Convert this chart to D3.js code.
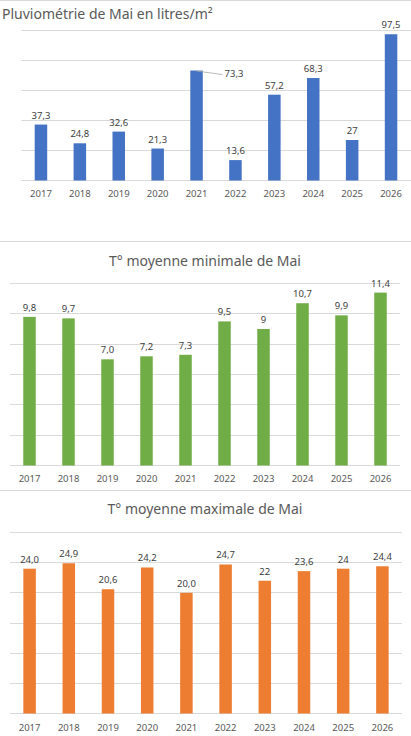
<!DOCTYPE html>
<html>
<head>
<meta charset="utf-8">
<script src="https://cdn.jsdelivr.net/npm/d3@7"></script>
<style>
  body { margin: 0; background: #fff; }
  svg { display: block; font-family: "Noto Sans", "Open Sans", sans-serif; }
</style>
</head>
<body>
<div id="chart"></div>
<script>
// data
var years = ["2017", "2018", "2019", "2020", "2021", "2022", "2023", "2024", "2025", "2026"];

var rain = [37.3, 24.8, 32.6, 21.3, 73.3, 13.6, 57.2, 68.3, 27, 97.5];
var rainLabels = ["37,3", "24,8", "32,6", "21,3", "73,3", "13,6", "57,2", "68,3", "27", "97,5"];
var rainTicks = [0, 20, 40, 60, 80, 100];

var tMin = [9.8, 9.7, 7.0, 7.2, 7.3, 9.5, 9, 10.7, 9.9, 11.4];
var tMinLabels = ["9,8", "9,7", "7,0", "7,2", "7,3", "9,5", "9", "10,7", "9,9", "11,4"];
var tMinTicks = [0, 2, 4, 6, 8, 10, 12];

var tMax = [24.0, 24.9, 20.6, 24.2, 20.0, 24.7, 22, 23.6, 24, 24.4];
var tMaxLabels = ["24,0", "24,9", "20,6", "24,2", "20,0", "24,7", "22", "23,6", "24", "24,4"];
var tMaxTicks = [0, 5, 10, 15, 20, 25, 30];

var W = 411, H = 736;

var svg = d3.select("#chart").append("svg")
  .attr("width", W)
  .attr("height", H);

// separators between the three charts
[0.5, 241.5, 490.5].forEach(function(y) {
  svg.append("line")
    .attr("x1", 0).attr("x2", W)
    .attr("y1", y).attr("y2", y)
    .attr("stroke", "#d9d9d9").attr("stroke-width", 1);
});

var charts = [
  { title: "Pluviométrie de Mai en litres/m²", values: rain, labels: rainLabels, ticks: rainTicks,
    color: "#4472c4", x0: 21.5, x1: 410.5, gx1: 411, yTop: 30.5, yBase: 180.5,
    titleX: 2, titleY: 19, anchor: "start", yearY: 197, leader: 4 },
  { title: "T° moyenne minimale de Mai", values: tMin, labels: tMinLabels, ticks: tMinTicks,
    color: "#70ad47", x0: 10, x1: 400, gx1: 400, yTop: 283.5, yBase: 465.5,
    titleX: 205, titleY: 265.5, anchor: "middle", yearY: 482, leader: -1 },
  { title: "T° moyenne maximale de Mai", values: tMax, labels: tMaxLabels, ticks: tMaxTicks,
    color: "#ed7d31", x0: 10, x1: 402, gx1: 402, yTop: 532.5, yBase: 713.5,
    titleX: 205, titleY: 513.5, anchor: "middle", yearY: 731, leader: -1 }
];

charts.forEach(function(c) {
  var g = svg.append("g");

  var x = d3.scaleBand().domain(years).range([c.x0, c.x1]);
  var y = d3.scaleLinear()
    .domain([0, d3.max(c.ticks)])
    .range([c.yBase, c.yTop]);
  var bw = 12.5;

  // gridlines
  g.selectAll(".grid")
    .data(c.ticks)
    .enter().append("line")
    .attr("x1", c.x0).attr("x2", c.gx1)
    .attr("y1", function(d) { return Math.round(y(d) - 0.5) + 0.5; })
    .attr("y2", function(d) { return Math.round(y(d) - 0.5) + 0.5; })
    .attr("stroke", "#d9d9d9").attr("stroke-width", 1);

  // title
  g.append("text")
    .attr("x", c.titleX).attr("y", c.titleY)
    .attr("text-anchor", c.anchor)
    .attr("fill", "#595959")
    .attr("font-size", 14)
    .text(c.title);

  // bars
  g.selectAll(".bar")
    .data(c.values)
    .enter().append("rect")
    .attr("x", function(d, i) { return x(years[i]) + x.bandwidth() / 2 - bw / 2; })
    .attr("y", function(d) { return y(d); })
    .attr("width", bw)
    .attr("height", function(d) { return c.yBase - y(d); })
    .attr("fill", c.color);

  // data labels
  g.selectAll(".lbl")
    .data(c.values)
    .enter().append("text")
    .attr("x", function(d, i) {
      var cx = x(years[i]) + x.bandwidth() / 2;
      return i === c.leader ? cx + 28 : cx;
    })
    .attr("y", function(d, i) { return i === c.leader ? y(d) + 6.5 : y(d) - 6; })
    .attr("text-anchor", function(d, i) { return i === c.leader ? "start" : "middle"; })
    .attr("fill", "#404040")
    .attr("font-size", 9.5)
    .text(function(d, i) { return c.labels[i]; });

  // leader line for the moved label
  if (c.leader >= 0) {
    var lx = x(years[c.leader]) + x.bandwidth() / 2;
    var ly = y(c.values[c.leader]);
    g.append("line")
      .attr("x1", lx).attr("y1", ly + 0.5)
      .attr("x2", lx + 26).attr("y2", ly + 4)
      .attr("stroke", "#a6a6a6").attr("stroke-width", 0.8);
  }

  // year axis labels
  var axis = d3.axisBottom(x).tickSize(0).tickPadding(0);
  var ag = g.append("g").attr("transform", "translate(0," + c.yearY + ")").call(axis);
  ag.select(".domain").remove();
  ag.selectAll("text")
    .attr("dy", 0)
    .attr("y", 0)
    .attr("fill", "#595959")
    .attr("font-size", 9.5)
    .attr("font-family", "Noto Sans, Open Sans, sans-serif");
});
</script>
</body>
</html>
